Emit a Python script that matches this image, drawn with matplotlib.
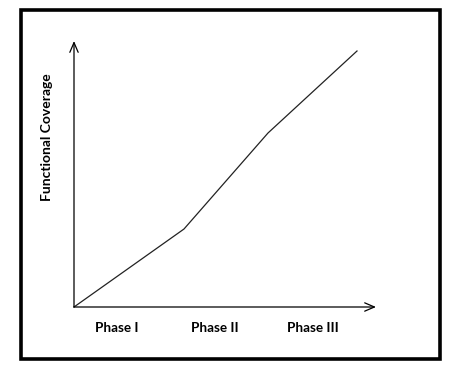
import matplotlib
matplotlib.use("Agg")
import matplotlib.pyplot as plt
from matplotlib.patches import Rectangle

phases = ["Phase I", "Phase II", "Phase III"]
phase_pos = [43, 141, 239]
coverage_x = [0, 110, 194, 283]
coverage_y = [0, 78, 174, 256]
x_max = 302
y_max = 266

W, H = 477, 378
fig = plt.figure(figsize=(W / 100, H / 100), dpi=100)
fig.patch.set_facecolor("white")

# outer border
fig.patches.append(Rectangle((21 / W, 1 - 359 / H), (440 - 21) / W, (359 - 10) / H,
                             transform=fig.transFigure, fill=False, edgecolor="black",
                             linewidth=2.6, figure=fig))

ax = fig.add_axes([74 / W, 1 - 307 / H, 302 / W, 266 / H])
ax.set_xlim(0, x_max)
ax.set_ylim(0, y_max)
for s in ax.spines.values():
    s.set_visible(False)
ax.set_yticks([])
ax.set_xticks(phase_pos, phases)
ax.tick_params(axis="x", length=0, pad=11)
for lab in ax.get_xticklabels():
    lab.set_fontfamily("Lato")
    lab.set_fontweight("bold")
    lab.set_fontsize(9.7)
ax.patch.set_alpha(0)

arrow = dict(arrowstyle="->,head_length=0.7,head_width=0.3", color="black", lw=0.9,
             shrinkA=0, shrinkB=0)
ax.annotate("", xy=(x_max, 0), xytext=(0, 0), arrowprops=arrow, annotation_clip=False)
ax.annotate("", xy=(0, y_max), xytext=(0, 0), arrowprops=arrow, annotation_clip=False)

ax.plot(coverage_x, coverage_y, color="#222222", lw=0.9, clip_on=False)

fig.text(47 / W, 1 - 137 / H, "Functional Coverage", rotation=90, ha="center", va="center",
         fontfamily="Lato", fontweight="bold", fontsize=10)

fig.savefig("out.png", dpi=100)
